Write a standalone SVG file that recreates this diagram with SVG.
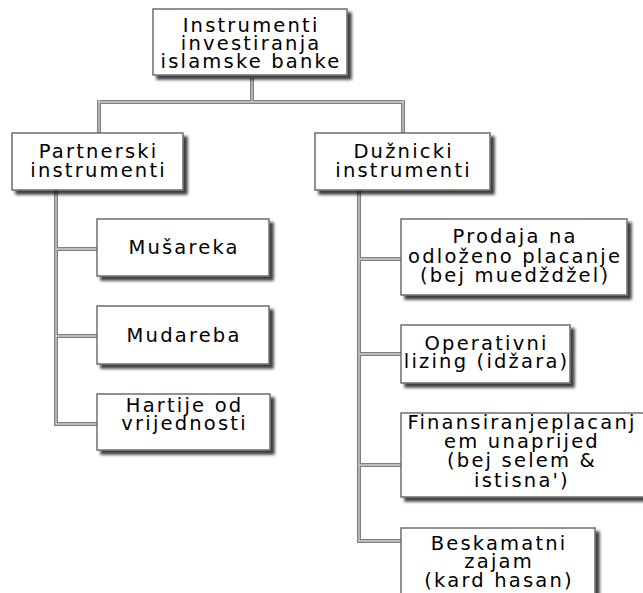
<svg xmlns="http://www.w3.org/2000/svg" width="643" height="593" viewBox="0 0 643 593">
<defs>
<filter id="sh" x="-10%" y="-10%" width="130%" height="140%">
<feDropShadow dx="4" dy="4" stdDeviation="1.8" flood-color="#000" flood-opacity="0.75"/>
</filter>
</defs>
<style>
.box{fill:#fff;stroke:#6e6e6e;stroke-width:1.5;filter:url(#sh)}
.t{font-family:"DejaVu Sans",Verdana,sans-serif;font-size:19.5px;letter-spacing:2.2px;fill:#000;text-anchor:middle}
.co{fill:none;stroke:#808080;stroke-width:4}
.ci{fill:none;stroke:#cfcfcf;stroke-width:1.3}
</style>
<rect width="643" height="593" fill="#fff"/>
<g id="connectors">
<g class="co">
<path d="M252 78V102M99 102H403M99 100V133M403 100V133"/>
<path d="M56 190V424H97M56 249H97M56 336H97"/>
<path d="M359 190V541H401M359 259H401M359 354H401M359 465H401"/>
</g>
<g class="ci">
<path d="M252 78V102M99 102H403M99 100V133M403 100V133"/>
<path d="M56 190V424H97M56 249H97M56 336H97"/>
<path d="M359 190V541H401M359 259H401M359 354H401M359 465H401"/>
</g>
</g>
<g id="root">
<rect class="box" x="153" y="9" width="194" height="66"/>
<text class="t" x="251.1" y="32">Instrumenti</text>
<text class="t" x="251.1" y="50">investiranja</text>
<text class="t" x="251.1" y="68">islamske banke</text>
</g>
<g id="partnerski">
<rect class="box" x="12" y="133" width="171" height="57"/>
<text class="t" x="98.6" y="158">Partnerski</text>
<text class="t" x="98.6" y="177">instrumenti</text>
</g>
<g id="duznicki">
<rect class="box" x="315" y="133" width="175" height="57"/>
<text class="t" x="403.6" y="158">Dužnicki</text>
<text class="t" x="403.6" y="177">instrumenti</text>
</g>
<g id="musareka">
<rect class="box" x="97" y="219" width="172" height="57"/>
<text class="t" x="184.1" y="254">Mušareka</text>
</g>
<g id="mudareba">
<rect class="box" x="97" y="306" width="172" height="58"/>
<text class="t" x="184.1" y="342">Mudareba</text>
</g>
<g id="hartije">
<rect class="box" x="97" y="394" width="173" height="56"/>
<text class="t" x="184.6" y="412">Hartije od</text>
<text class="t" x="184.6" y="430">vrijednosti</text>
</g>
<g id="prodaja">
<rect class="box" x="401" y="219" width="226" height="76"/>
<text class="t" x="515.1" y="243">Prodaja na</text>
<text class="t" x="515.1" y="263">odloženo placanje</text>
<text class="t" x="515.1" y="282">(bej muedždžel)</text>
</g>
<g id="operativni">
<rect class="box" x="401" y="325" width="169" height="58"/>
<text class="t" x="486.6" y="350">Operativni</text>
<text class="t" x="486.6" y="368">lizing (idžara)</text>
</g>
<g id="finansiranje">
<rect class="box" x="401" y="413" width="245" height="84"/>
<text class="t" x="522" y="429">Finansiranjeplacanj</text>
<text class="t" x="522" y="448">em unaprijed</text>
<text class="t" x="522" y="467">(bej selem &amp;</text>
<text class="t" x="522" y="487">istisna')</text>
</g>
<g id="beskamatni">
<rect class="box" x="401" y="528" width="194" height="70"/>
<text class="t" x="499.1" y="550">Beskamatni</text>
<text class="t" x="499.1" y="568">zajam</text>
<text class="t" x="499.1" y="587">(kard hasan)</text>
</g>
</svg>
